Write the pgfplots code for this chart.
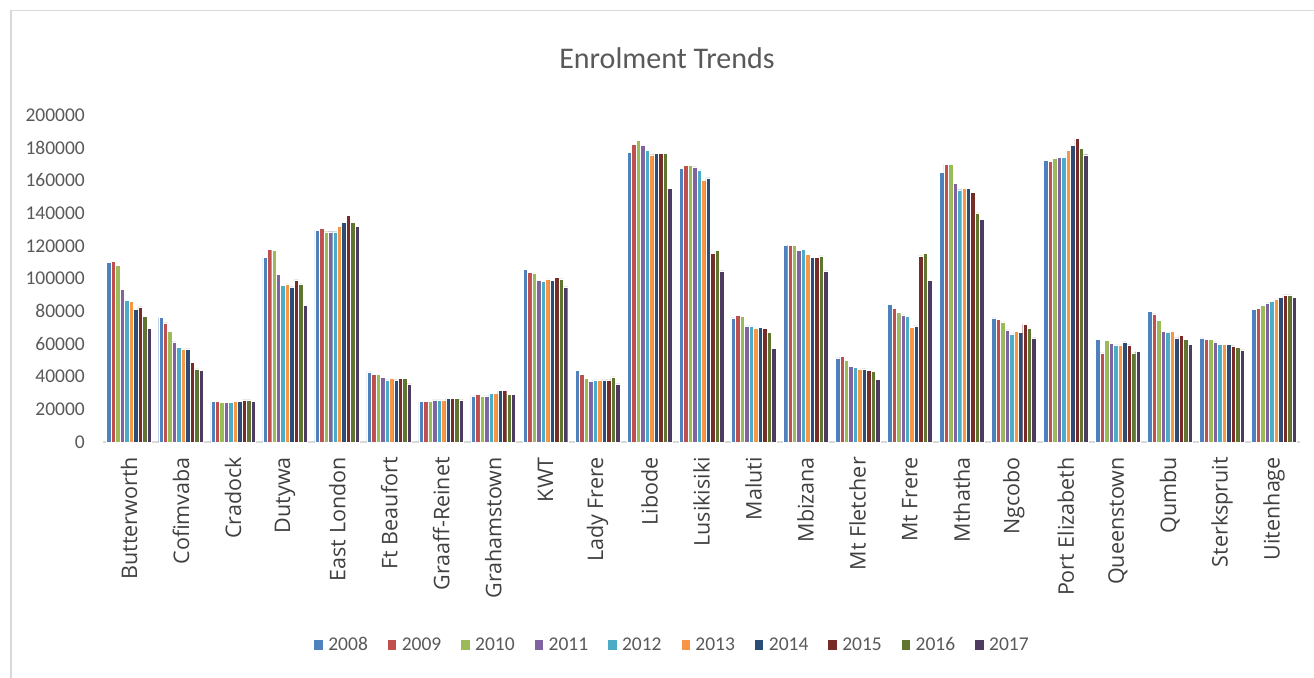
\documentclass[border=0pt]{standalone}
\usepackage{pgfplots}
\usepackage{pgfplotstable}
\usepackage{fontspec}
\pgfplotsset{compat=1.18}
\setmainfont{Carlito}
\newfontfamily\catfont{Open Sans}

\definecolor{c08}{HTML}{4F81BD}
\definecolor{c09}{HTML}{C0504D}
\definecolor{c10}{HTML}{9BBB59}
\definecolor{c11}{HTML}{8064A2}
\definecolor{c12}{HTML}{4BACC6}
\definecolor{c13}{HTML}{F79646}
\definecolor{c14}{HTML}{2C4D75}
\definecolor{c15}{HTML}{772C2A}
\definecolor{c16}{HTML}{5F7530}
\definecolor{c17}{HTML}{4D3B62}
\definecolor{txtgray}{HTML}{595959}
\definecolor{catgray}{HTML}{404040}
\definecolor{gridgray}{HTML}{D9D9D9}

% Learner enrolment per district, 2008--2017
\pgfplotstableread{
idx y2008 y2009 y2010 y2011 y2012 y2013 y2014 y2015 y2016 y2017
0  109800 110600 108200 93300  86700  86100  81000  82600  76700  69400
1  76100  72900  67800  61200  57800  56900  56900  48800  44700  43900
2  24900  24900  24100  24100  24100  24900  24900  25700  25700  24900
3  113100 118000 117100 102400 95700  96700  94900  99200  96700  83500
4  129600 130600 128600 128600 128600 132000 134500 138600 134500 132000
5  42900  41200  41200  39600  38000  38800  38000  38800  38800  35500
6  24900  24900  24900  25700  25700  25700  26500  26500  26500  25700
7  28200  29000  28200  28200  29800  29800  31400  31400  29000  29000
8  105500 103900 103100 99000  98200  99800  99000  100600 99800  94900
9  43900  41400  39000  37100  38000  38000  38000  38000  39800  35500
10 177300 182200 184700 181400 178200 175700 176500 176500 176500 155100
11 167300 169000 169000 168200 166500 160000 161600 115500 117100 104700
12 75900  77600  76700  71000  71000  69400  70200  69400  66900  57100
13 120400 120400 120400 117100 118000 114700 113100 113100 113900 104700
14 51400  52200  49800  46300  45500  44700  44700  43900  43100  38200
15 84300  81800  79400  77800  76700  70200  71000  113900 115500 99000
16 165100 170000 170000 158400 154300 155100 155100 152700 140200 136100
17 75900  75100  73500  68600  66100  67800  66900  71800  69400  63700
18 172400 171600 173300 174100 174100 178200 181400 185700 179800 175700
19 62700  54500  62000  60200  59400  59400  61200  59400  54500  55300
20 80000  78400  74300  67800  66900  67800  63700  65300  62900  59600
21 63700  62900  62900  61200  59600  59600  59600  58800  58000  56300
22 81000  81800  83500  85100  85900  87600  88400  90000  90000  88400
}\enrol

\begin{document}
\begin{tikzpicture}
\useasboundingbox (0,0) rectangle (1314bp,678bp);
% chart frame
\draw[gridgray, line width=1.2bp] (11bp,-2bp) -- (11bp,667.5bp) -- (1320bp,667.5bp);
% title
\node[text=txtgray, font=\fontsize{30bp}{36bp}\selectfont] at (667bp,620bp) {Enrolment Trends};
\begin{axis}[
  at={(103bp,236bp)}, anchor=south west,
  scale only axis, width=1197bp, height=327bp,
  ybar=0pt, bar width=4.47bp,
  xmin=-0.5, xmax=22.5, ymin=0, ymax=200000,
  enlargelimits=false,
  axis line style={draw=none},
  axis x line*=bottom,
  x axis line style={draw=gridgray, line width=1.3bp},
  hide y axis,
  ymajorgrids, grid style={gridgray, line width=1.3bp},
  ytick={0,20000,...,200000},
  major tick length=0pt,
  xtick={0,...,22},
  xticklabels={Butterworth,Cofimvaba,Cradock,Dutywa,East London,Ft Beaufort,Graaff-Reinet,Grahamstown,KWT,Lady Frere,Libode,Lusikisiki,Maluti,Mbizana,Mt Fletcher,Mt Frere,Mthatha,Ngcobo,Port Elizabeth,Queenstown,Qumbu,Sterkspruit,Uitenhage},
  xticklabel style={rotate=90, anchor=east, inner sep=0pt, xshift=-15bp,
    text=catgray, font=\catfont\fontsize{21.5bp}{25bp}\selectfont},
  legend columns=10,
  legend style={at={(0.4754,-0.6208)}, anchor=center, draw=none, fill=none,
    font=\fontsize{19.5bp}{22bp}\selectfont, text=txtgray,
    /tikz/every odd column/.append style={column sep=3bp},
    /tikz/every even column/.append style={column sep=17bp}},
  legend image code/.code={\fill[#1] (0bp,-5.5bp) rectangle (9.5bp,5.5bp);},
  every axis plot/.append style={draw=white, line width=0.4bp},
  clip=false,
]
% y tick labels, set in the text font
\pgfplotsinvokeforeach{0,20000,40000,60000,80000,100000,120000,140000,160000,180000,200000}{
  \node[anchor=east, inner sep=0pt, text=txtgray, font=\fontsize{19.5bp}{22bp}\selectfont]
    at (axis cs:-0.5,#1) [xshift=-18bp] {#1};
}
\addplot[fill=c08] table[x=idx,y=y2008] {\enrol};
\addplot[fill=c09] table[x=idx,y=y2009] {\enrol};
\addplot[fill=c10] table[x=idx,y=y2010] {\enrol};
\addplot[fill=c11] table[x=idx,y=y2011] {\enrol};
\addplot[fill=c12] table[x=idx,y=y2012] {\enrol};
\addplot[fill=c13] table[x=idx,y=y2013] {\enrol};
\addplot[fill=c14] table[x=idx,y=y2014] {\enrol};
\addplot[fill=c15] table[x=idx,y=y2015] {\enrol};
\addplot[fill=c16] table[x=idx,y=y2016] {\enrol};
\addplot[fill=c17] table[x=idx,y=y2017] {\enrol};
\legend{2008,2009,2010,2011,2012,2013,2014,2015,2016,2017}
\end{axis}
\end{tikzpicture}
\end{document}
